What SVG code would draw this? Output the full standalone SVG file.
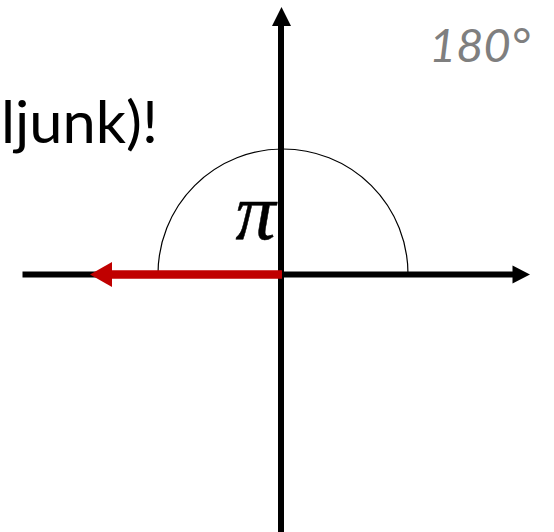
<svg xmlns="http://www.w3.org/2000/svg" width="554" height="532" viewBox="0 0 554 532">
<style>
.axis{stroke:#000;stroke-width:6;fill:none}
.arc{stroke:#000;stroke-width:1.2;fill:none}
.red{stroke:#C00000;stroke-width:8.5;fill:none}
.lbl{font-family:Lato,"Liberation Sans",sans-serif}
</style>
<rect width="554" height="532" fill="#fff"/>
<g id="title">
<text class="lbl" x="1" y="143" font-size="58" textLength="157" lengthAdjust="spacingAndGlyphs" fill="#000">ljunk)!</text>
</g>
<g id="degree">
<text class="lbl" x="530" y="61.5" font-size="47" font-style="italic" text-anchor="end" fill="#7F7F7F">180°</text>
</g>
<g id="angle-arc">
<path class="arc" d="M158 274 A125 125 0 0 1 408 274"/>
</g>
<g id="connectors">
<line class="axis" x1="22.5" y1="274.5" x2="514" y2="274.5"/>
<polygon points="530,274.5 512.5,265.5 512.5,283.5" fill="#000"/>
<line class="axis" x1="281" y1="532" x2="281" y2="25"/>
<polygon points="281.5,7 272,26 291,26" fill="#000"/>
<line class="red" x1="282" y1="274.5" x2="110" y2="274.5"/>
<polygon points="90,274.5 112,262 112,287" fill="#C00000"/>
</g>
<g id="pi">
<text x="255.5" y="239" font-family="'Liberation Serif',serif" font-style="italic" font-size="80" text-anchor="middle" fill="#000" stroke="#000" stroke-width="0.5">π</text>
</g>
</svg>
